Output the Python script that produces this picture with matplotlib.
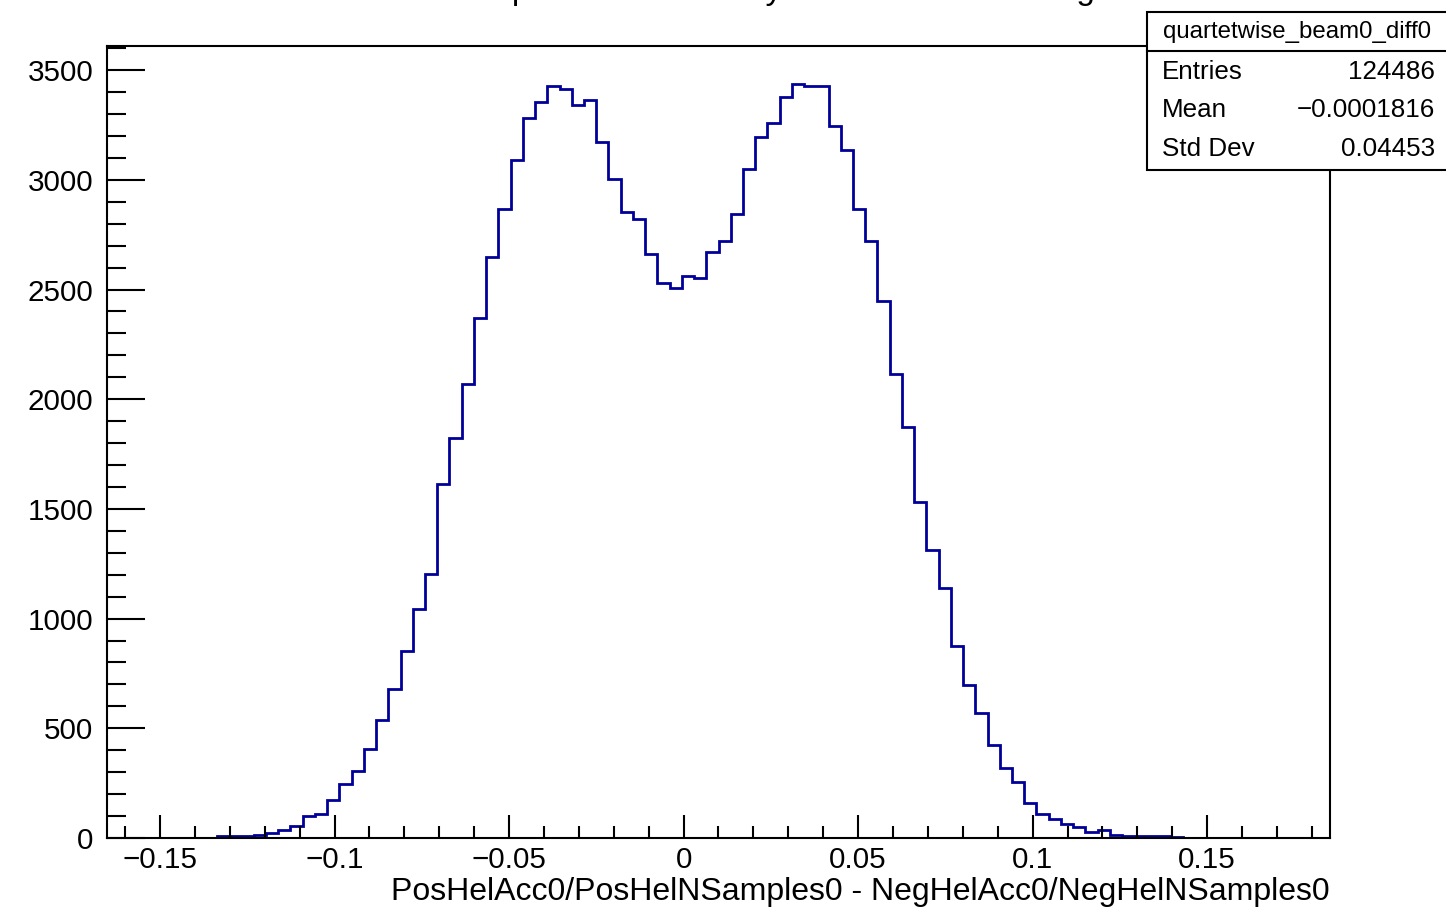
import matplotlib
matplotlib.use("Agg")
import matplotlib.pyplot as plt
import matplotlib.ticker as mticker
from matplotlib.patches import Rectangle
import numpy as np

plt.rcParams["font.family"] = ["Liberation Sans", "DejaVu Sans"]

# histogram binning and contents
XMIN, XMAX, NBINS = -0.1652, 0.1852, 100
counts = [
    0, 0, 0, 0, 0, 0, 0, 0, 0,
    8, 10, 10, 12, 24, 38, 53, 99, 111, 173,
    245, 306, 404, 536, 681, 853, 1045, 1205, 1614, 1824,
    2068, 2370, 2649, 2867, 3089, 3280, 3353, 3427, 3415, 3341,
    3363, 3172, 3003, 2855, 2820, 2664, 2529, 2505, 2562, 2552,
    2673, 2722, 2843, 3051, 3195, 3257, 3379, 3438, 3427, 3427,
    3245, 3136, 2869, 2722, 2446, 2115, 1872, 1531, 1311, 1141,
    875, 696, 572, 426, 317, 256, 158, 109, 87, 62,
    51, 26, 36, 12, 10, 9, 8, 7, 5,
    0, 0, 0, 0, 0, 0, 0, 0, 0, 0, 0, 0,
]
edges = np.linspace(XMIN, XMAX, NBINS + 1)

hist_name = "quartetwise_beam0_diff0"
hist_title = "Beam0 diff0: quartetwise helicity difference Pos - Neg"
x_label = "PosHelAcc0/PosHelNSamples0 - NegHelAcc0/NegHelNSamples0"
stat_names = ["Entries", "Mean", "Std Dev"]
stat_values = ["124486", "\u22120.0001816", "0.04453"]

W, H = 1446, 909
fig = plt.figure(figsize=(W / 100, H / 100), dpi=100)
ax = fig.add_axes([107 / W, 1 - 838 / H, (1330 - 107) / W, (838 - 46) / H])

ax.stairs(counts, edges, baseline=0, color="#000099", linewidth=2.0)

ax.set_xlim(XMIN, XMAX)
ax.set_ylim(0, 1.05 * max(counts))

ax.xaxis.set_major_locator(mticker.MultipleLocator(0.05))
ax.xaxis.set_minor_locator(mticker.MultipleLocator(0.01))
ax.yaxis.set_major_locator(mticker.MultipleLocator(500))
ax.yaxis.set_minor_locator(mticker.MultipleLocator(100))
ax.xaxis.set_major_formatter(mticker.FuncFormatter(lambda v, p: f"{v:g}".replace("-", "\u2212") if abs(v) > 1e-9 else "0"))

ax.tick_params(axis="both", which="both", direction="in", width=1.5, top=False, right=False, labelsize=21.3, colors="black")
ax.tick_params(axis="x", which="major", length=16.5, pad=6)
ax.tick_params(axis="x", which="minor", length=9)
ax.tick_params(axis="y", which="major", length=27.5, pad=10)
ax.tick_params(axis="y", which="minor", length=14)
for s in ax.spines.values():
    s.set_linewidth(1.5)

ax.set_xlabel(x_label, fontsize=23, loc="right", labelpad=2)

# title, mostly cut off by the top of the canvas (only descenders show)
fig.text(700 / W, 1 + 1 / H, hist_title, ha="center", va="baseline", fontsize=24)

# stats box
bx0, by0, by1, bsep = 1147, 12, 170, 51
box = Rectangle((bx0 / W, 1 - by1 / H), (W + 10 - bx0) / W, (by1 - by0) / H,
                transform=fig.transFigure, facecolor="white", edgecolor="black",
                linewidth=1.5, clip_on=False)
fig.add_artist(box)
fig.add_artist(plt.Line2D([bx0 / W, 1.01], [1 - bsep / H, 1 - bsep / H],
                          transform=fig.transFigure, color="black", linewidth=1.5))
fig.text(1297 / W, 1 - 32 / H, hist_name, ha="center", va="center", fontsize=17.3)
row_y = [72, 110, 149]
for name, val, ry in zip(stat_names, stat_values, row_y):
    fig.text(1162 / W, 1 - ry / H, name, ha="left", va="center", fontsize=18.7)
    fig.text(1435 / W, 1 - ry / H, val, ha="right", va="center", fontsize=18.7)

fig.savefig("out.png", dpi=100, facecolor="white")
